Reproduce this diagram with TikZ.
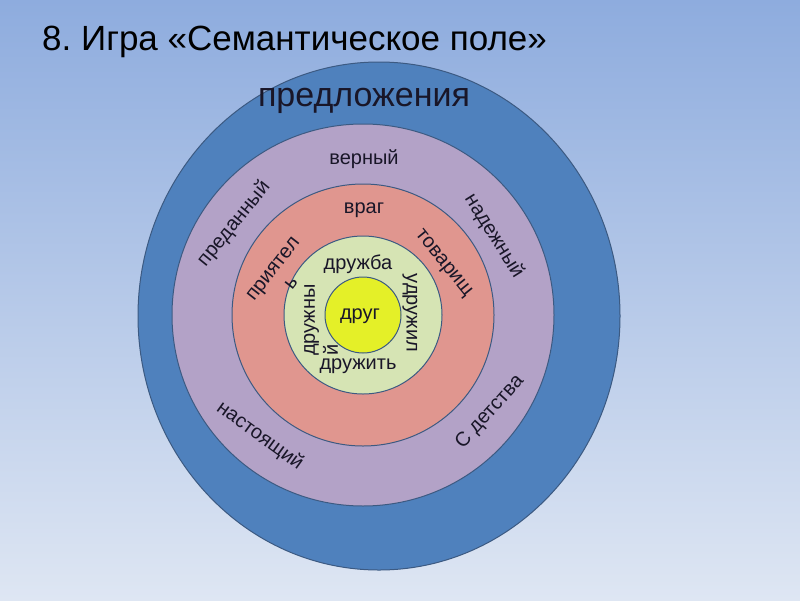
\documentclass[tikz,border=0pt]{standalone}
\usepackage{fontspec}
\setmainfont{Liberation Sans}
\frenchspacing
\definecolor{bgtop}{RGB}{142,172,222}
\definecolor{bgbot}{RGB}{222,230,243}
\definecolor{ringblue}{RGB}{79,129,189}
\definecolor{ringlilac}{RGB}{179,162,199}
\definecolor{ringrose}{RGB}{224,150,143}
\definecolor{ringsage}{RGB}{214,228,180}
\definecolor{ringlemon}{RGB}{228,240,40}
\definecolor{ringedge}{RGB}{60,90,130}
\definecolor{wordink}{RGB}{25,22,40}
\begin{document}
\begin{tikzpicture}[x=1pt, y=-1pt,
		lbl/.style={text=wordink, inner sep=0pt, align=center, font=\fontsize{20}{23}\selectfont}]
			
			% Nền và khung ảnh
			\shade[top color=bgtop, bottom color=bgbot] (0,0) rectangle (800,600);
			\useasboundingbox (0,0) rectangle (800,600);
			
			% Tiêu đề
			\node[anchor=base west, inner sep=0pt, font=\fontsize{35}{40}\selectfont] (title) at (42,50) {8. Игра «Семантическое поле»};
			
			% Vòng ngoài cùng (hơi bầu dục)
			\filldraw[fill=ringblue, draw=ringedge, line width=1pt] (379,316) ellipse [x radius=241, y radius=254];
			
			% Các vòng bên trong: tím, hồng, xanh lá, vàng
			\foreach \r/\c in {191/ringlilac, 131/ringrose, 79/ringsage, 38/ringlemon} {
				\filldraw[fill=\c, draw=ringedge, line width=1pt] (363,315) circle [radius=\r];
			}
			
			% Chữ trên vòng xanh
			\node[anchor=base, inner sep=0pt, text=wordink, font=\fontsize{34}{40}\selectfont] (predlozheniya) at (364,106) {предложения};
			
			% Chữ trên vòng tím
			\node[lbl] (vernyj) at (364,159) {верный};
			\node[lbl, rotate=51] (predannyj) at (234,224) {преданный};
			\node[lbl, rotate=-58] (nadezhnyj) at (494,236) {надежный};
			\node[lbl, rotate=-36] (nastoyashchij) at (260,436) {настоящий};
			\node[lbl, rotate=48] (sdetstva) at (490,412) {С детства};
			
			% Chữ trên vòng hồng
			\node[lbl] (vrag) at (364,210) {враг};
			\node[lbl, rotate=52] (priyatel) at (282,276) {приятел\\ь};
			\node[lbl, rotate=-51] (tovarishch) at (443,264) {товарищ};
			
			% Chữ trên vòng xanh lá
			\node[lbl] (druzhba) at (358,264) {дружба};
			\node[lbl, rotate=90, align=left] (druzhnyj) at (321,320) {дружны\\й};
			\node[lbl, rotate=-90] (udruzhil) at (410,313) {удружил};
			\node[lbl] (druzhit) at (358,366) {дружить};
			
			% Tâm
			\node[lbl] (drug) at (360,316) {друг};
			
		\end{tikzpicture}
\end{document}
